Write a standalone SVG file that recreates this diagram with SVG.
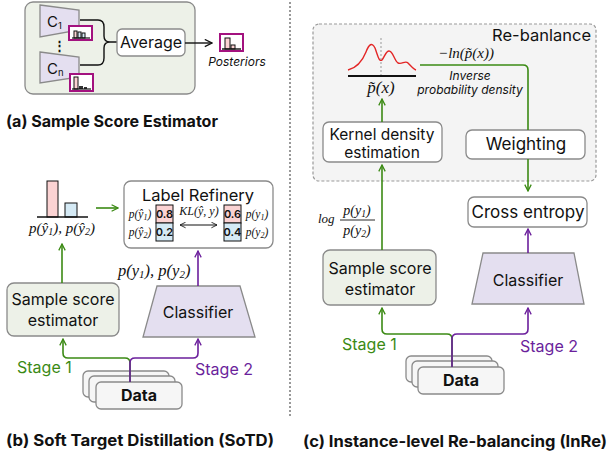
<svg xmlns="http://www.w3.org/2000/svg" width="610" height="461" viewBox="0 0 610 461">
<style>
text{font-family:Inter,"Noto Sans","Liberation Sans",sans-serif;fill:#111}
.t{font-size:16px;text-anchor:middle}
.cap{font-size:16px;font-weight:bold}
.m{font-family:"Liberation Serif","DejaVu Serif",serif;font-style:italic}
.box{fill:#fff;stroke:#8a8a8a;stroke-width:1.3}
.gbox{fill:#edf1e8;stroke:#8a8a8a;stroke-width:1.3}
.cls{fill:#e4dff0;stroke:#8a8a8a;stroke-width:1.3}
.g{stroke:#3b8a14;stroke-width:1.6;fill:none}
.p{stroke:#6b1f9c;stroke-width:1.6;fill:none}
.k{stroke:#111;stroke-width:1.4;fill:none}
.hist{fill:#fff;stroke:#a3127f;stroke-width:2}
.pk{fill:#fbd3d3;stroke:#111;stroke-width:1}
.bl{fill:#d5eaf5;stroke:#111;stroke-width:1}
.dat{fill:#f6f6f6;stroke:#8a8a8a;stroke-width:1.3}
</style>
<defs>
<marker id="ag" viewBox="0 0 10 10" refX="9" refY="5" markerWidth="8" markerHeight="8" orient="auto" markerUnits="userSpaceOnUse"><path d="M1,1 L9,5 L1,9" fill="none" stroke="#3b8a14" stroke-width="1.6"/></marker>
<marker id="ap" viewBox="0 0 10 10" refX="9" refY="5" markerWidth="8" markerHeight="8" orient="auto" markerUnits="userSpaceOnUse"><path d="M1,1 L9,5 L1,9" fill="none" stroke="#6b1f9c" stroke-width="1.6"/></marker>
<marker id="ak" viewBox="0 0 10 10" refX="9" refY="5" markerWidth="9" markerHeight="9" orient="auto" markerUnits="userSpaceOnUse"><path d="M1,1 L9,5 L1,9" fill="none" stroke="#111" stroke-width="1.4"/></marker>
<marker id="aks" viewBox="0 0 10 10" refX="9" refY="5" markerWidth="7" markerHeight="7" orient="auto-start-reverse" markerUnits="userSpaceOnUse"><path d="M1,1 L9,5 L1,9" fill="none" stroke="#111" stroke-width="1.2"/></marker>
</defs>

<!-- divider -->
<line x1="290" y1="2" x2="290" y2="416" stroke="#999" stroke-width="2" stroke-dasharray="2,2"/>

<!-- Panel (a) -->
<g id="panel-a">
<rect x="25" y="2" width="170" height="92" rx="8" class="gbox"/>
<g id="c1">
<polygon points="40,5 79,10 79,30 40,37" class="cls"/>
<text x="47" y="27" style="font-size:15px">C<tspan style="font-size:9.5px" dy="2">1</tspan></text>
<rect x="69" y="26" width="23" height="14" class="hist"/>
<rect x="74" y="31" width="3" height="7" class="pk" stroke-width="0.8"/>
<rect x="78" y="32" width="3" height="6" class="bl" stroke-width="0.8"/>
<rect x="82" y="33" width="3" height="5" class="bl" stroke-width="0.8"/>
<line x1="72" y1="38" x2="90" y2="38" stroke="#111" stroke-width="1.2"/>
</g>
<text x="59" y="50" style="font-size:13px;font-weight:bold" text-anchor="middle">⋮</text>
<g id="cn">
<polygon points="40,52 79,57 79,77 40,83" class="cls"/>
<text x="47" y="74" style="font-size:15px">C<tspan style="font-size:9.5px" dy="2">n</tspan></text>
<rect x="70" y="74" width="23" height="17" class="hist"/>
<rect x="74" y="77" width="4" height="12" class="pk" stroke-width="0.8"/>
<rect x="79" y="86" width="4" height="3" fill="#333"/>
<rect x="84" y="87" width="3" height="2" fill="#333"/>
<line x1="72" y1="89" x2="91" y2="89" stroke="#111" stroke-width="1.2"/>
</g>
<path d="M80,20 H98 Q104,20 104,27 V36 Q104,42 110,42 H117 M80,65 H98 Q104,65 104,58 V48 Q104,42 110,42" class="k"/>
<g id="average">
<rect x="117" y="29" width="68" height="27" rx="5" class="box"/>
<text x="151" y="48" class="t">Average</text>
</g>
<line x1="185" y1="43" x2="212" y2="43" class="k" marker-end="url(#ak)"/>
<g id="posteriors">
<rect x="220" y="34" width="23" height="17" class="hist"/>
<rect x="225" y="38" width="5" height="11" class="pk" stroke-width="0.8"/>
<rect x="231" y="45" width="4" height="4" class="pk" stroke-width="0.8"/>
<line x1="222" y1="49" x2="241" y2="49" stroke="#111" stroke-width="1.4"/>
<text x="237" y="66" style="font-size:12px;font-style:italic" text-anchor="middle">Posteriors</text>
</g>
<text x="6" y="127" class="cap" textLength="212" lengthAdjust="spacingAndGlyphs">(a) Sample Score Estimator</text>
</g>

<!-- Panel (b) -->
<g id="panel-b">
<g id="b-hist">
<rect x="47" y="181" width="11" height="36" class="pk" stroke-width="1.5"/>
<rect x="65" y="203" width="12" height="14" class="bl" stroke-width="1.5"/>
<line x1="37" y1="217" x2="88" y2="217" stroke="#111" stroke-width="1.6"/>
<text x="62" y="233" class="m" style="font-size:15px" text-anchor="middle">p(ŷ<tspan style="font-size:10px" dy="2">1</tspan><tspan dy="-2">), p(ŷ</tspan><tspan style="font-size:10px" dy="2">2</tspan><tspan dy="-2">)</tspan></text>
</g>
<g id="label-refinery">
<rect x="124" y="181" width="149" height="67" rx="7" class="box"/>
<text x="198" y="201" class="t" style="font-size:16.5px">Label Refinery</text>
<rect x="156" y="205" width="17" height="18" class="pk" stroke-width="1.5"/>
<rect x="156" y="223" width="17" height="18" class="bl" stroke-width="1.5"/>
<rect x="224" y="205" width="17" height="18" class="pk" stroke-width="1.5"/>
<rect x="224" y="223" width="17" height="18" class="bl" stroke-width="1.5"/>
<text x="164.5" y="218" style="font-size:11px;font-weight:600" text-anchor="middle">0.8</text>
<text x="164.5" y="236" style="font-size:11px;font-weight:600" text-anchor="middle">0.2</text>
<text x="232.5" y="218" style="font-size:11px;font-weight:600" text-anchor="middle">0.6</text>
<text x="232.5" y="236" style="font-size:11px;font-weight:600" text-anchor="middle">0.4</text>
<text x="140" y="218" class="m" style="font-size:11.5px" text-anchor="middle">p(ŷ<tspan style="font-size:8px" dy="1.5">1</tspan><tspan dy="-1.5">)</tspan></text>
<text x="140" y="236" class="m" style="font-size:11.5px" text-anchor="middle">p(ŷ<tspan style="font-size:8px" dy="1.5">2</tspan><tspan dy="-1.5">)</tspan></text>
<text x="257" y="218" class="m" style="font-size:11.5px" text-anchor="middle">p(y<tspan style="font-size:8px" dy="1.5">1</tspan><tspan dy="-1.5">)</tspan></text>
<text x="257" y="236" class="m" style="font-size:11.5px" text-anchor="middle">p(y<tspan style="font-size:8px" dy="1.5">2</tspan><tspan dy="-1.5">)</tspan></text>
<text x="199" y="215" class="m" style="font-size:12px" text-anchor="middle">KL(ŷ, y)</text>
<line x1="180" y1="225" x2="217" y2="225" stroke="#111" stroke-width="1" marker-start="url(#aks)" marker-end="url(#aks)"/>
</g>
<g id="b-sse">
<rect x="7" y="283" width="112" height="53" rx="7" class="gbox"/>
<text x="63" y="305" class="t">Sample score</text>
<text x="63" y="326" class="t">estimator</text>
</g>
<g id="b-classifier">
<polygon points="157,286 240,286 255,337 143,337" class="cls"/>
<text x="198" y="318" class="t">Classifier</text>
</g>
<g id="b-data">
<rect x="83" y="371" width="86" height="26" rx="5" class="dat"/>
<rect x="89" y="376" width="86" height="26" rx="5" class="dat"/>
<rect x="96" y="382" width="86" height="27" rx="5" class="dat"/>
<text x="139" y="401" class="t" style="font-weight:bold">Data</text>
</g>
<text x="118" y="276" class="m" style="font-size:16.5px">p(y<tspan style="font-size:11px" dy="2">1</tspan><tspan dy="-2">), p(y</tspan><tspan style="font-size:11px" dy="2">2</tspan><tspan dy="-2">)</tspan></text>
<text x="17" y="373" style="font-size:16px;fill:#3b8a14">Stage 1</text>
<text x="195" y="375" style="font-size:16px;fill:#6b1f9c">Stage 2</text>
<text x="6" y="446" class="cap" textLength="268" lengthAdjust="spacingAndGlyphs">(b) Soft Target Distillation (SoTD)</text>
</g>

<!-- Panel (c) -->
<g id="panel-c">
<g id="rebalance">
<rect x="313" y="24" width="283" height="157" rx="6" fill="#f4f4f4" stroke="#999" stroke-width="1.2" stroke-dasharray="3,2"/>
<text x="591" y="41" style="font-size:16.5px" text-anchor="end">Re-banlance</text>
</g>
<g id="density">
<line x1="381" y1="38" x2="381" y2="76" stroke="#999" stroke-width="1" stroke-dasharray="2,2"/>
<path d="M348,70 C356,68 362,62 366,52 C369,44 372,42 375,48 C378,56 379,62 382,60 C385,56 386,51 389,51 C393,51 394,60 398,63 C402,65 405,60 408,63 C411,66 413,69 416,70" fill="none" stroke="#e32626" stroke-width="1.4"/>
<line x1="348" y1="76" x2="416" y2="76" stroke="#111" stroke-width="2"/>
<text x="381" y="93" class="m" style="font-size:17px" text-anchor="middle">p̃(x)</text>
</g>
<text x="466" y="58" class="m" style="font-size:15px" text-anchor="middle">−ln(p̃(x))</text>
<text x="470" y="80" style="font-size:12px;font-style:italic" text-anchor="middle">Inverse</text>
<text x="470" y="94" style="font-size:12px;font-style:italic" text-anchor="middle">probability density</text>
<g id="kde">
<rect x="323" y="122" width="119" height="40" rx="6" class="box"/>
<text x="382" y="140" class="t" style="font-size:15.5px">Kernel density</text>
<text x="382" y="158" class="t" style="font-size:15.5px">estimation</text>
</g>
<g id="weighting">
<rect x="466" y="130" width="119" height="29" rx="6" class="box"/>
<text x="526" y="150" class="t" style="font-size:17px">Weighting</text>
</g>
<g id="cross-entropy">
<rect x="468" y="197" width="119" height="30" rx="6" class="box"/>
<text x="528" y="218" class="t" style="font-size:17px">Cross entropy</text>
</g>
<g id="c-sse">
<rect x="323" y="250" width="113" height="55" rx="7" class="gbox"/>
<text x="380" y="274" class="t">Sample score</text>
<text x="380" y="295" class="t">estimator</text>
</g>
<g id="c-classifier">
<polygon points="483,253 574,253 584,304 472,304" class="cls"/>
<text x="528" y="286" class="t">Classifier</text>
</g>
<g id="c-data">
<rect x="406" y="356" width="86" height="26" rx="5" class="dat"/>
<rect x="412" y="361" width="86" height="26" rx="5" class="dat"/>
<rect x="418" y="367" width="86" height="27" rx="5" class="dat"/>
<text x="461" y="386" class="t" style="font-weight:bold">Data</text>
</g>
<text x="318" y="223" class="m" style="font-size:13px">log</text>
<text x="357" y="215" class="m" style="font-size:14px" text-anchor="middle">p(y<tspan style="font-size:9.5px" dy="2">1</tspan><tspan dy="-2">)</tspan></text>
<line x1="340" y1="220" x2="375" y2="220" stroke="#111" stroke-width="0.9"/>
<text x="357" y="235" class="m" style="font-size:14px" text-anchor="middle">p(y<tspan style="font-size:9.5px" dy="2">2</tspan><tspan dy="-2">)</tspan></text>
<text x="342" y="350" style="font-size:16px;fill:#3b8a14">Stage 1</text>
<text x="520" y="352" style="font-size:16px;fill:#6b1f9c">Stage 2</text>
<text x="303" y="447" class="cap" textLength="304" lengthAdjust="spacingAndGlyphs">(c) Instance-level Re-balancing (InRe)</text>
</g>

<!-- connectors -->
<g id="connectors">
<line x1="96" y1="208" x2="118" y2="208" class="g" marker-end="url(#ag)"/>
<line x1="62" y1="283" x2="62" y2="244" class="g" marker-end="url(#ag)"/>
<line x1="198" y1="286" x2="198" y2="251" class="p" marker-end="url(#ap)"/>
<path d="M130,382 V363 Q130,358 125,358 H68 Q63,358 63,353 V339" class="g" marker-end="url(#ag)"/>
<path d="M130,382 V363 Q130,358 135,358 H193 Q198,358 198,353 V339" class="p" marker-end="url(#ap)"/>
<line x1="382" y1="122" x2="382" y2="99" class="g" marker-end="url(#ag)"/>
<path d="M420,65 H523 Q528,65 528,70 V130" class="g"/>
<line x1="528" y1="159" x2="528" y2="191" class="g" marker-end="url(#ag)"/>
<line x1="382" y1="250" x2="382" y2="165" class="g" marker-end="url(#ag)"/>
<line x1="528" y1="253" x2="528" y2="229" class="p" marker-end="url(#ap)"/>
<path d="M452,367 V339 Q452,334 447,334 H387 Q382,334 382,329 V308" class="g" marker-end="url(#ag)"/>
<path d="M452,367 V339 Q452,334 457,334 H523 Q528,334 528,329 V308" class="p" marker-end="url(#ap)"/>
</g>
</svg>
